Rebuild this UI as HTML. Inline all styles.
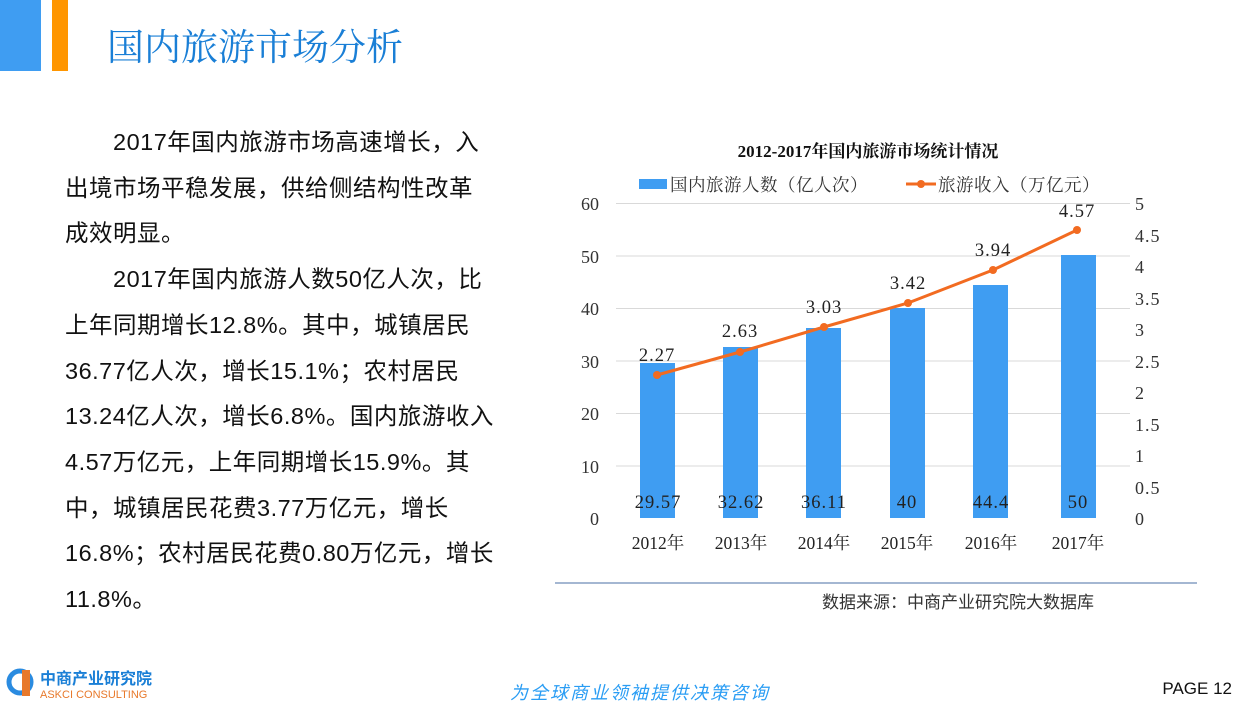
<!DOCTYPE html>
<html><head><meta charset="utf-8"><style>
body{margin:0;width:1250px;height:718px;background:#fff;position:relative;overflow:hidden;font-family:"Liberation Sans","Noto Sans CJK SC",sans-serif}
.a{position:absolute;white-space:nowrap}
.txt{font-size:23.5px;letter-spacing:0.5px;color:#111;line-height:45.7px;left:65px;top:120px}
</style></head><body>
<div class="a" style="left:0;top:0;width:41px;height:71px;background:#3f9df2"></div>
<div class="a" style="left:52px;top:0;width:16px;height:71px;background:#ff9600"></div>
<div class="a" style="left:107px;top:17px;font-size:37px;color:#1a7fd6;font-family:'Noto Serif CJK SC','Noto Sans CJK SC',serif">国内旅游市场分析</div>
<div class="a txt">
<div style="padding-left:48px">2017年国内旅游市场高速增长，入</div>
<div>出境市场平稳发展，供给侧结构性改革</div>
<div>成效明显。</div>
<div style="padding-left:48px">2017年国内旅游人数50亿人次，比</div>
<div>上年同期增长12.8%。其中，城镇居民</div>
<div>36.77亿人次，增长15.1%；农村居民</div>
<div>13.24亿人次，增长6.8%。国内旅游收入</div>
<div>4.57万亿元，上年同期增长15.9%。其</div>
<div>中，城镇居民花费3.77万亿元，增长</div>
<div>16.8%；农村居民花费0.80万亿元，增长</div>
<div>11.8%。</div>
</div>
<svg class="a" style="left:0;top:0" width="1250" height="718" font-family="'Liberation Serif','Noto Serif CJK SC',serif">
<text x="868" y="157" text-anchor="middle" font-size="17" font-weight="bold" fill="#111">2012-2017年国内旅游市场统计情况</text>
<rect x="639" y="179" width="28" height="10" fill="#3f9df2"/>
<text x="670" y="191" font-size="17.5" fill="#333" letter-spacing="0.5">国内旅游人数（亿人次）</text>
<line x1="906" y1="184" x2="936" y2="184" stroke="#f26b21" stroke-width="3"/><circle cx="921" cy="184" r="4" fill="#f26b21"/>
<text x="938" y="191" font-size="17.5" fill="#333" letter-spacing="0.5">旅游收入（万亿元）</text>
<g stroke="#d9d9d9" stroke-width="1">
<line x1="616" x2="1130" y1="203.5" y2="203.5"/><line x1="616" x2="1130" y1="256" y2="256"/><line x1="616" x2="1130" y1="308.5" y2="308.5"/><line x1="616" x2="1130" y1="361" y2="361"/><line x1="616" x2="1130" y1="413.5" y2="413.5"/><line x1="616" x2="1130" y1="466" y2="466"/>
</g>
<g font-size="18" fill="#333" text-anchor="end">
<text x="599" y="210">60</text><text x="599" y="263">50</text><text x="599" y="315">40</text><text x="599" y="368">30</text><text x="599" y="420">20</text><text x="599" y="473">10</text><text x="599" y="525">0</text>
</g>
<g font-size="18" fill="#333" letter-spacing="1">
<text x="1135" y="210">5</text><text x="1135" y="242">4.5</text><text x="1135" y="273">4</text><text x="1135" y="305">3.5</text><text x="1135" y="336">3</text><text x="1135" y="368">2.5</text><text x="1135" y="399">2</text><text x="1135" y="431">1.5</text><text x="1135" y="462">1</text><text x="1135" y="494">0.5</text><text x="1135" y="525">0</text>
</g>
<g fill="#3f9df2">
<rect x="640" y="363" width="35" height="155"/><rect x="723" y="347" width="35" height="171"/><rect x="806" y="328" width="35" height="190"/><rect x="890" y="308" width="35" height="210"/><rect x="973" y="285" width="35" height="233"/><rect x="1061" y="255" width="35" height="263"/>
</g>
<g font-size="18.5" fill="#222" text-anchor="middle" letter-spacing="1">
<text x="658" y="508">29.57</text><text x="741" y="508">32.62</text><text x="824" y="508">36.11</text><text x="907" y="508">40</text><text x="991" y="508">44.4</text><text x="1078" y="508">50</text>
<text x="658" y="549" font-size="17.5" letter-spacing="0">2012年</text><text x="741" y="549" font-size="17.5" letter-spacing="0">2013年</text><text x="824" y="549" font-size="17.5" letter-spacing="0">2014年</text><text x="907" y="549" font-size="17.5" letter-spacing="0">2015年</text><text x="991" y="549" font-size="17.5" letter-spacing="0">2016年</text><text x="1078" y="549" font-size="17.5" letter-spacing="0">2017年</text>
</g>
<polyline points="657,375 740,352 824,327 908,303 993,270 1077,230" fill="none" stroke="#f26b21" stroke-width="3"/>
<g fill="#f26b21"><circle cx="657" cy="375" r="4"/><circle cx="740" cy="352" r="4"/><circle cx="824" cy="327" r="4"/><circle cx="908" cy="303" r="4"/><circle cx="993" cy="270" r="4"/><circle cx="1077" cy="230" r="4"/></g>
<g font-size="18.5" fill="#222" text-anchor="middle" letter-spacing="1">
<text x="657" y="361">2.27</text><text x="740" y="337">2.63</text><text x="824" y="313">3.03</text><text x="908" y="289">3.42</text><text x="993" y="256">3.94</text><text x="1077" y="217">4.57</text>
</g>
<line x1="555" y1="583" x2="1197" y2="583" stroke="#4a6fa5" stroke-width="1"/>
<text x="958" y="608" text-anchor="middle" font-size="17" fill="#333" font-family="'Noto Sans CJK SC',sans-serif">数据来源：中商产业研究院大数据库</text>
<circle cx="20" cy="682" r="11" fill="none" stroke="#2a8be0" stroke-width="5"/>
<rect x="22" y="670" width="8" height="26" fill="#e8792b"/>
<text x="40" y="684" font-size="16" font-weight="bold" fill="#1a7fd6" font-family="'Noto Sans CJK SC',sans-serif">中商产业研究院</text>
<text x="40" y="698" font-size="11" fill="#e8792b" font-family="'Liberation Sans',sans-serif">ASKCI CONSULTING</text>
<text x="640" y="699" text-anchor="middle" font-size="18" letter-spacing="2" font-style="italic" fill="#2a9df4" font-family="'Noto Sans CJK SC',sans-serif">为全球商业领袖提供决策咨询</text>
<text x="1232" y="694" text-anchor="end" font-size="17" fill="#111" font-family="'Liberation Sans',sans-serif">PAGE 12</text>
</svg>
</body></html>
